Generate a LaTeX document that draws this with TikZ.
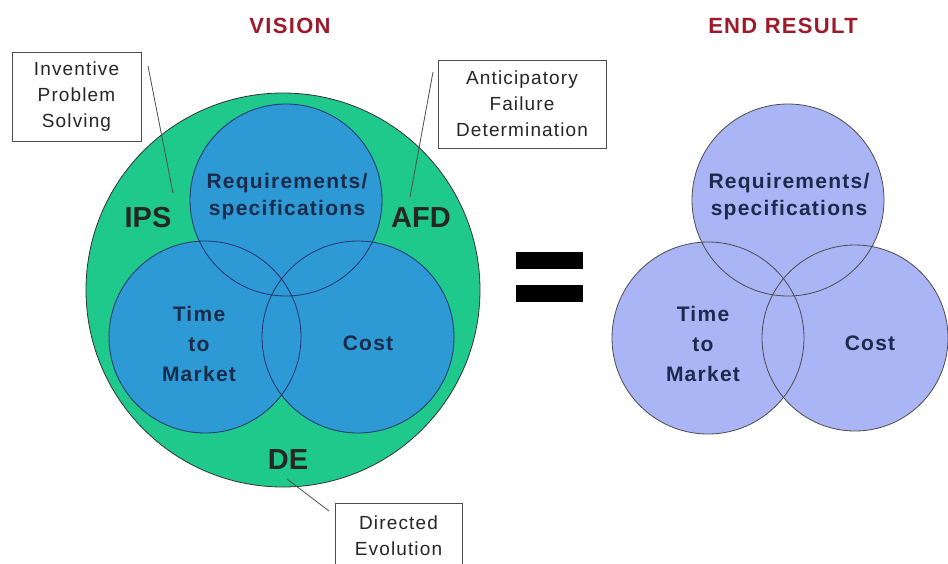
\documentclass[tikz,border=0pt]{standalone}
\usepackage{fontspec}
\setmainfont{Liberation Sans}
\newfontfamily\spaced{Liberation Sans}[LetterSpace=6]
\definecolor{grn}{HTML}{1FC98C}
\definecolor{blu}{HTML}{2E9AD5}
\definecolor{lav}{HTML}{AAB5F5}
\definecolor{navy}{HTML}{1B2B4B}
\definecolor{dred}{HTML}{9E1A2A}
\definecolor{rim}{HTML}{23336A}
\begin{document}
\begin{tikzpicture}[x=1pt,y=-1pt,
  venn/.style={circle, inner sep=0pt, minimum size=192pt},
  vlbl/.style={text=navy, align=center, inner sep=0pt, font=\spaced\bfseries\fontsize{21}{27}\selectfont},
  tlbl/.style={text=navy, align=center, inner sep=0pt, font=\spaced\bfseries\fontsize{21}{30}\selectfont},
  big/.style={text=black!85, inner sep=0pt, font=\bfseries\fontsize{29}{30}\selectfont},
  title/.style={text=dred, inner sep=0pt, font=\spaced\bfseries\fontsize{22}{24}\selectfont},
  callout/.style={draw=black!70, line width=1pt, fill=white, align=center, inner sep=0pt, text=black!85, font=\spaced\fontsize{19}{26}\selectfont},
  leader/.style={draw=black!70, line width=0.8pt},
  eqbar/.style={fill=black, inner sep=0pt, minimum width=67pt, minimum height=17pt}
]
\clip (0,0) rectangle (948,563);
\fill[white] (0,0) rectangle (948,563);

% titles
\node[title] (vision) at (290,26) {VISION};
\node[title] (endres) at (783,26) {END RESULT};

% big green circle
\node[circle, inner sep=0pt, minimum size=394pt, fill=grn, draw=black!80, line width=0.8pt] (whole) at (283,290) {};

% blue circles
\node[venn, fill=blu] (req) at (286,200) {};
\node[venn, fill=blu] (ttm) at (205,337) {};
\node[venn, fill=blu] (cost) at (358,337) {};
\draw[rim, line width=0.8pt] (req.center) circle[radius=96];
\draw[rim, line width=0.8pt] (ttm.center) circle[radius=96];
\draw[rim, line width=0.8pt] (cost.center) circle[radius=96];

\node[vlbl] (reqt) at (287,197) {Requirements/\\specifications};
\node[tlbl] (ttmt) at (199,344) {Time\\to\\Market};
\node[vlbl] (costt) at (368,343) {Cost};

\node[big] (ips) at (148,218) {IPS};
\node[big] (afd) at (421,218) {AFD};
\node[big] (de) at (288,460) {DE};

% callouts
\node[callout, minimum width=129pt, minimum height=89pt] (ipsbox) at (76.5,96.5) {Inventive\\Problem\\Solving};
\node[callout, minimum width=168pt, minimum height=88pt] (afdbox) at (522,104) {Anticipatory\\Failure\\Determination};
\node[callout, minimum width=127pt, minimum height=70pt, anchor=north west, text depth=0pt] (debox) at (335,503) {};
\node[text=black!85, align=center, inner sep=0pt, font=\spaced\fontsize{19}{26}\selectfont] (detxt) at (398.5,536) {Directed\\Evolution};

\coordinate (ipsA) at (148,66);
\coordinate (ipsB) at (173,193);
\coordinate (afdA) at (433,72);
\coordinate (afdB) at (410,197);
\coordinate (deA) at (287,479);
\coordinate (deB) at (329,511);
\draw[leader] (ipsA) -- (ipsB);
\draw[leader] (afdA) -- (afdB);
\draw[leader] (deA) -- (deB);

% equals sign
\node[eqbar] (eq1) at (549.5,260.5) {};
\node[eqbar] (eq2) at (549.5,293.5) {};

% end result circles
\node[venn, fill=lav] (req2) at (788,200) {};
\node[venn, fill=lav] (ttm2) at (708,338) {};
\node[venn, fill=lav, minimum size=186pt] (cost2) at (855,338) {};
\draw[black!70, line width=0.8pt] (req2.center) circle[radius=96];
\draw[black!70, line width=0.8pt] (ttm2.center) circle[radius=96];
\draw[black!70, line width=0.8pt] (cost2.center) circle[radius=93];

\node[vlbl] (reqt2) at (789,197) {Requirements/\\specifications};
\node[tlbl] (ttmt2) at (703,344) {Time\\to\\Market};
\node[vlbl] (costt2) at (870,343) {Cost};
\end{tikzpicture}
\end{document}
